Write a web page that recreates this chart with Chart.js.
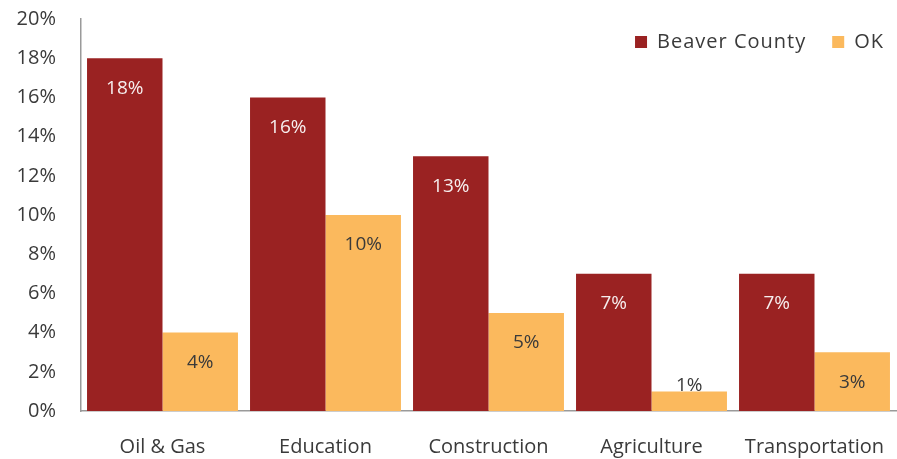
<!DOCTYPE html>
<html lang="en">
<head>
  <meta charset="UTF-8">
  <title>Industry share</title>
  <script src="https://cdn.jsdelivr.net/npm/chart.js"></script>
  <style>
    html, body { margin: 0; padding: 0; background: #fff; }
    .wrap { width: 897px; height: 459px; }
  </style>
</head>
<body>
  <div class="wrap"><canvas id="chart"></canvas></div>

  <script>
    const categories = ["Oil & Gas", "Education", "Construction", "Agriculture", "Transportation"];
    const beaver = [18, 16, 13, 7, 7];
    const ok = [4, 10, 5, 1, 3];
    const yTicks = [0, 2, 4, 6, 8, 10, 12, 14, 16, 18, 20];

    const FONT = "'Open Sans', sans-serif";
    const TEXT = "#3a3a3a";

    // value labels inside the bar near its top, plus legend in the top-right corner
    const extras = {
      id: "extras",
      afterDatasetsDraw(chart) {
        const ctx = chart.ctx;
        const base = chart.scales.y.getPixelForValue(0);
        ctx.save();
        ctx.font = "19px " + FONT;
        ctx.textAlign = "center";
        ctx.textBaseline = "middle";
        chart.data.datasets.forEach((ds, i) => {
          chart.getDatasetMeta(i).data.forEach((bar, j) => {
            const y = Math.min(bar.y + 30, base - 25);
            ctx.fillStyle = i === 0 ? "#f6eeee" : TEXT;
            ctx.fillText(ds.data[j] + "%", bar.x, y);
          });
        });

        // legend
        const area = chart.chartArea;
        const ly = area.top + 23;
        let x = area.right - 12;
        ctx.font = "20px " + FONT;
        ctx.letterSpacing = "1px";
        ctx.textAlign = "left";
        const items = chart.data.datasets.slice().reverse();
        items.forEach(ds => {
          const w = ctx.measureText(ds.label).width;
          x -= w;
          ctx.fillStyle = TEXT;
          ctx.fillText(ds.label, x, ly);
          x -= 22;
          ctx.fillStyle = ds.backgroundColor;
          ctx.fillRect(x, ly - 6, 12, 12);
          x -= 26;
        });
        ctx.restore();
      }
    };

    new Chart(document.getElementById("chart"), {
      type: "bar",
      data: {
        labels: categories,
        datasets: [
          { label: "Beaver County", data: beaver, backgroundColor: "#9a2222", categoryPercentage: 0.926, barPercentage: 1 },
          { label: "OK", data: ok, backgroundColor: "#fbb95d", categoryPercentage: 0.926, barPercentage: 1 }
        ]
      },
      options: {
        responsive: true,
        maintainAspectRatio: false,
        animation: false,
        layout: { padding: { top: 19, right: 1, bottom: 0, left: 0 } },
        plugins: {
          tooltip: { enabled: false },
          legend: { display: false }
        },
        scales: {
          x: {
            grid: { display: false, drawTicks: false },
            border: { color: "#9a9a9a", width: 1.5 },
            ticks: { font: { family: FONT, size: 20 }, color: TEXT, padding: 24 },
            afterFit(s) { s.height = 48; s.paddingLeft = 0; s.paddingRight = 0; }
          },
          y: {
            min: 0,
            max: 20,
            grid: { display: false, drawTicks: false },
            border: { color: "#9a9a9a", width: 1.5 },
            afterBuildTicks(s) { s.ticks = yTicks.map(v => ({ value: v })); },
            ticks: {
              font: { family: FONT, size: 20 },
              color: TEXT,
              padding: 25,
              callback: v => v + "%"
            },
            afterFit(s) { s.width = 81; s.paddingTop = 0; s.paddingBottom = 0; }
          }
        }
      },
      plugins: [extras]
    });
  </script>
</body>
</html>
